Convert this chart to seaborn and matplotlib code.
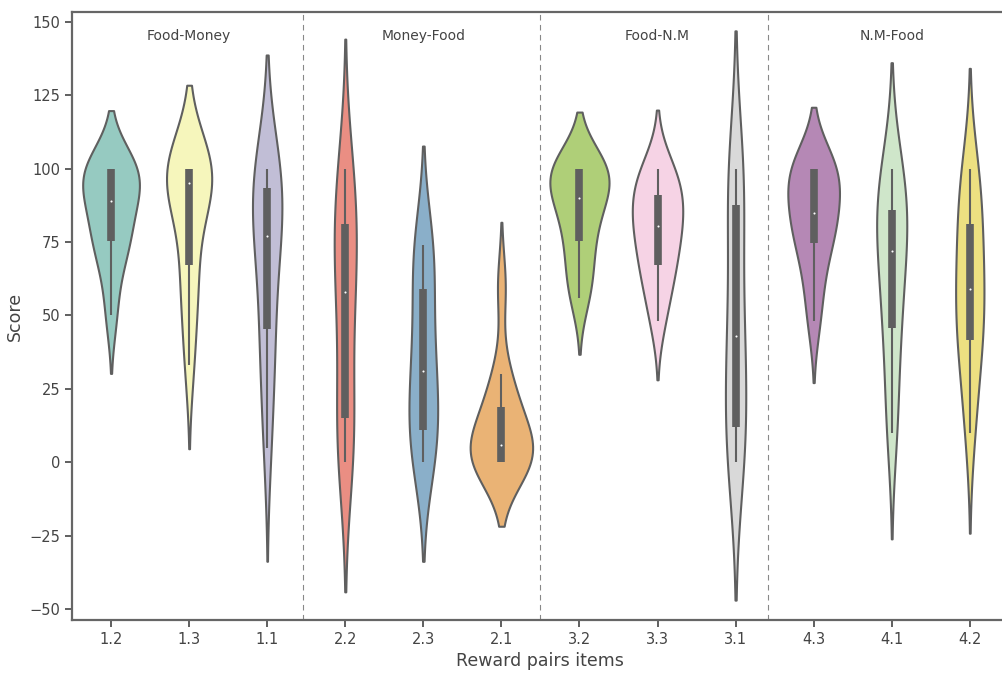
import numpy as np
import matplotlib
matplotlib.use("Agg")
import matplotlib.pyplot as plt
import pandas as pd
import seaborn as sns

# Reward pair items, in plotting order
items = ['1.2', '1.3', '1.1', '2.2', '2.3', '2.1',
         '3.2', '3.3', '3.1', '4.3', '4.1', '4.2']

# Scores per item (estimated from the figure)
s_1_2 = [50, 65, 74, 76, 80, 88, 90, 95, 100, 100, 100, 100]
s_1_3 = [33, 50, 62, 69, 85, 93, 97, 100, 100, 100, 100, 100]
s_1_1 = [5, 25, 40, 47, 65, 75, 79, 88, 92, 97, 100, 100]
s_2_2 = [0, 5, 12, 16, 40, 55, 61, 72, 80, 84, 95, 100]
s_2_3 = [0, 3, 8, 12, 22, 28, 34, 45, 55, 71, 72, 74]
s_2_1 = [0, 0, 0, 0, 2, 5, 7, 12, 18, 22, 30, 60]
s_3_2 = [56, 62, 70, 77, 83, 88, 92, 96, 100, 100, 100, 100]
s_3_3 = [48, 58, 65, 68, 75, 79, 82, 86, 90, 94, 98, 100]
s_3_1 = [0, 4, 9, 13, 30, 40, 46, 60, 85, 95, 98, 100]
s_4_3 = [48, 60, 70, 76, 80, 84, 86, 92, 100, 100, 100, 100]
s_4_1 = [10, 20, 42, 47, 58, 70, 74, 82, 85, 89, 98, 100]
s_4_2 = [10, 25, 38, 43, 50, 56, 62, 70, 79, 87, 95, 100]

scores = [s_1_2, s_1_3, s_1_1, s_2_2, s_2_3, s_2_1,
          s_3_2, s_3_3, s_3_1, s_4_3, s_4_1, s_4_2]

groups = ['Food-Money', 'Money-Food', 'Food-N.M', 'N.M-Food']

df = pd.DataFrame({
    'item': np.repeat(items, [len(s) for s in scores]),
    'score': np.concatenate(scores),
})

sns.set_style("ticks")
plt.rcParams['font.family'] = ['DejaVu Sans']

fig = plt.figure(figsize=(10.03, 6.75), dpi=100)
ax = fig.add_axes([0.0718, 0.0815, 0.934, 0.9005])

sns.violinplot(data=df, x='item', y='score', hue='item', order=items,
               hue_order=items, palette='Set3', legend=False,
               common_norm=True, linecolor='#5f5f5f', linewidth=1.5,
               inner_kws=dict(box_width=5.5, whis_width=1.5, marker='.'),
               ax=ax)

# shrink the median dots and square off the box ends
for ln in ax.lines:
    if ln.get_marker() not in (None, 'None', ''):
        ln.set_markersize(3)
        ln.set_markeredgewidth(0)
    ln.set_solid_capstyle('butt')
for coll in ax.collections:
    if isinstance(coll, matplotlib.collections.PathCollection):
        coll.set_sizes([6])
        coll.set_linewidth(0)

# group separators and labels
for xpos in [2.46, 5.5, 8.41]:
    ax.axvline(xpos, color='#888888', linestyle=(0, (5, 4)), linewidth=0.8)
for i, g in enumerate(groups):
    ax.text(1 + 3 * i, 145, g, ha='center', va='center', fontsize=10,
            color='#444444')

ax.set_xlim(-0.5, 11.5)
ax.set_ylim(-53.6, 153.2)
ax.set_yticks([-50, -25, 0, 25, 50, 75, 100, 125, 150])
ax.set_xlabel('Reward pairs items', fontsize=12.5, color='#444444')
ax.set_ylabel('Score', fontsize=12.5, color='#444444')
ax.tick_params(labelsize=10.5, colors='#444444', length=5, width=1.2)
for sp in ax.spines.values():
    sp.set_color('#666666')
    sp.set_linewidth(1.6)

fig.savefig('out.png', dpi=100)
